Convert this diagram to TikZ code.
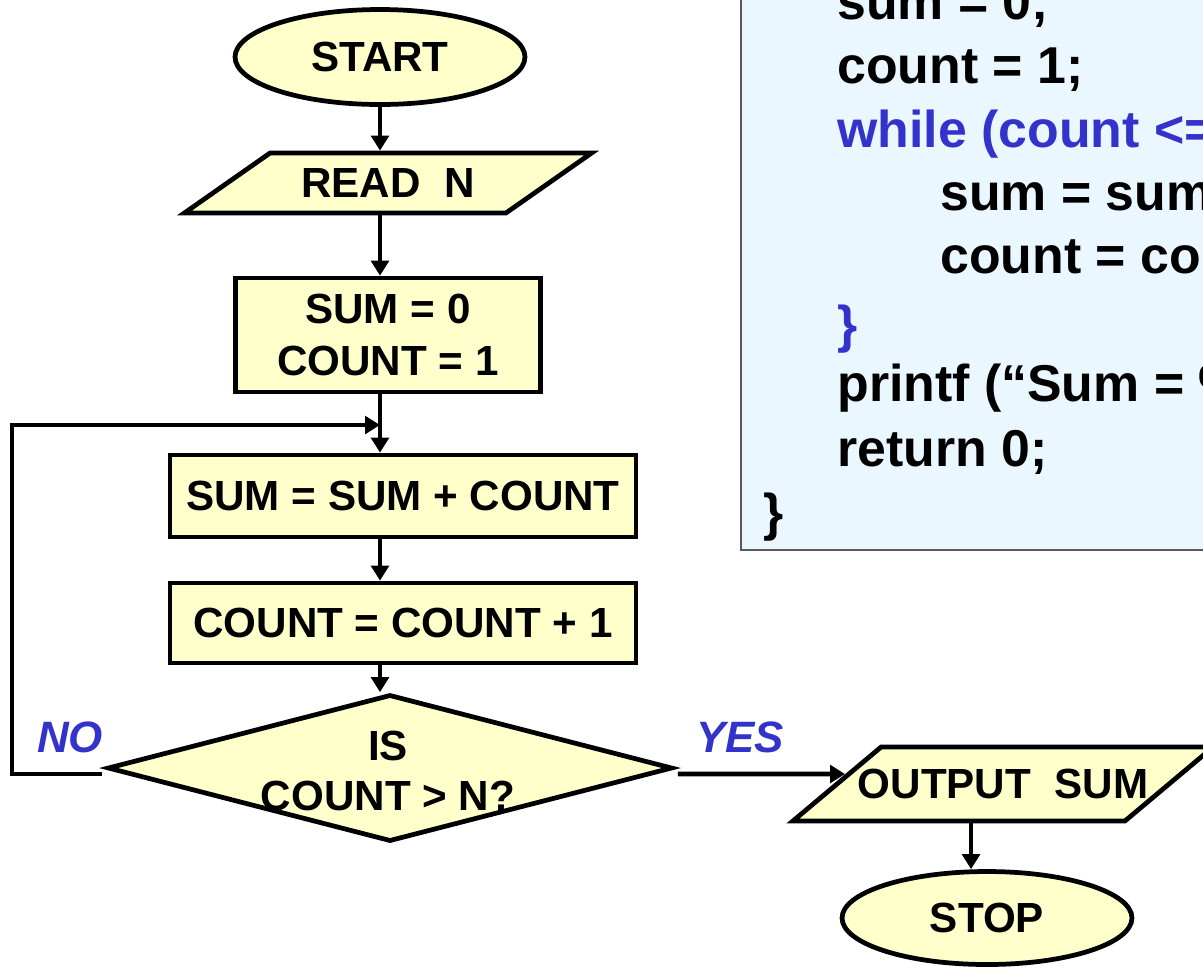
\documentclass[tikz,border=0pt]{standalone}
\usepackage{fontspec}
\setmainfont{Liberation Sans}
\usetikzlibrary{shapes.geometric,arrows.meta}

\definecolor{boxfill}{RGB}{255,255,204}
\definecolor{codefill}{RGB}{235,247,254}
\definecolor{keyblue}{RGB}{51,51,204}

\tikzset{
    block/.style={draw, line width=2.7pt, fill=boxfill, inner sep=0pt, align=center,
        font=\fontsize{24}{29.5}\selectfont\bfseries},
    terminal/.style={block, ellipse},
    io/.style={block, trapezium},
    flow/.style={line width=2.7pt, -{Triangle[length=8.5pt,width=10pt]}},
    codeline/.style={anchor=base west, inner sep=0pt, font=\fontsize{29.5}{35}\selectfont\bfseries},
    answer/.style={text=keyblue, font=\fontsize{25}{30}\selectfont\bfseries\itshape}
}

\begin{document}
\begin{tikzpicture} [x=0.02cm, y=-0.02cm]
                        \useasboundingbox (0,0) rectangle (1203,968);
                        \clip (0,0) rectangle (1203,968);

                        % Code
                        \draw [draw=black!65, line width=1.1pt, fill=codefill] (741,-30) rectangle (1260,550);
                        \node [codeline] (sumzero) at (837,19) {sum = 0;};
                        \node [codeline] (countone) at (837,83) {count = 1;};
                        \node [codeline, text=keyblue] (while) at (837,147) {while (count <= N) \{};
                        \node [codeline] (sumadd) at (940,210) {sum = sum + count;};
                        \node [codeline] (countinc) at (940,273) {count = count + 1;};
                        \node [codeline, text=keyblue] (whileend) at (837,342) {\}};
                        \node [codeline] (print) at (837,401) {printf (“Sum = \%d\textbackslash n”, sum);};
                        \node [codeline] (ret) at (837,466) {return 0;};
                        \node [codeline] (mainend) at (763,530) {\}};

                        % Flowchart
                        \node [terminal, minimum width=5.8cm, minimum height=1.9cm] (start) at (380,57) {START};
                        \node [io, trapezium left angle=35, trapezium right angle=145,
                            inner xsep=0.625cm, inner ysep=0.31cm] (read) at (388,183) {READ\ \ N};
                        \node [block, minimum width=6.1cm, minimum height=2.28cm] (init) at (388,335) {SUM = 0\\COUNT = 1};
                        \node [block, minimum width=9.32cm, minimum height=1.64cm] (add) at (403,496) {SUM = SUM + COUNT};
                        \node [block, minimum width=9.32cm, minimum height=1.6cm] (incr) at (403,623) {COUNT = COUNT + 1};
                        \node [block, diamond, minimum width=11.3cm, minimum height=2.94cm] (check) at (390,768) {};
                        \node [align=center, inner sep=0pt, font=\fontsize{24}{28.5}\selectfont\bfseries] (checktext) at (388,771) {IS\\COUNT > N?};
                        \node [io, trapezium left angle=40, trapezium right angle=140,
                            inner xsep=-0.465cm, inner ysep=0.44cm] (out) at (1003,784) {OUTPUT\ \ SUM};
                        \node [terminal, minimum width=5.8cm, minimum height=1.86cm] (stop) at (987,918) {STOP};

                        % Answers
                        \node [answer] (no) at (70,737) {NO};
                        \node [answer] (yes) at (740,737) {YES};

                        % Connectors
                        \coordinate (join) at (380,425);
                        \coordinate (corner) at (12,425);
                        \coordinate (yesend) at (845,774);
                        \draw [flow] (start.south) -- (start.south |- read.north);
                        \draw [flow] (read.south -| start.south) -- (start.south |- init.north);
                        \draw [flow] (init.south -| start.south) -- (start.south |- add.north);
                        \draw [flow] (add.south -| start.south) -- (start.south |- incr.north);
                        \draw [flow] (incr.south -| start.south) -- (start.south |- check.north);
                        \draw [flow] ([shift={(-0.06cm,-0.12cm)}]check.west) -| (corner) -- (join);
                        \draw [flow] ([shift={(0.06cm,-0.12cm)}]check.east) -- (yesend);
                        \draw [flow] ([xshift=-0.64cm]out.south) -- ([xshift=-0.64cm]out.south |- stop.north);
                    \end{tikzpicture}
\end{document}
